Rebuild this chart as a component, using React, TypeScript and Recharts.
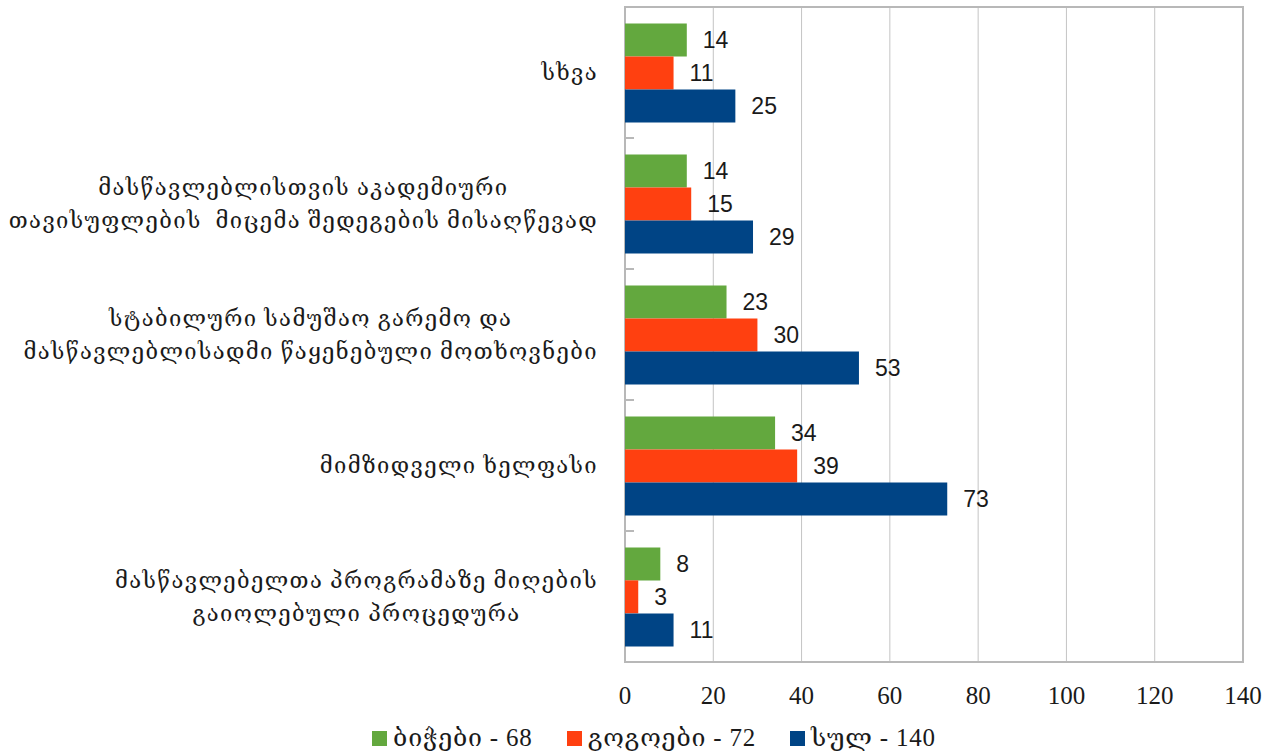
import React from "react";
import {
  BarChart,
  Bar,
  XAxis,
  YAxis,
  CartesianGrid,
  Legend,
  LabelList,
  ReferenceArea,
} from "recharts";

// categories, top to bottom ("\n" marks the line break of the label)
const CATEGORIES = [
  "სხვა",
  "მასწავლებლისთვის აკადემიური\nთავისუფლების  მიცემა შედეგების მისაღწევად",
  "სტაბილური სამუშაო გარემო და\nმასწავლებლისადმი წაყენებული მოთხოვნები",
  "მიმზიდველი ხელფასი",
  "მასწავლებელთა პროგრამაზე მიღების\nგაიოლებული პროცედურა",
];

const BOYS = [14, 14, 23, 34, 8];
const GIRLS = [11, 15, 30, 39, 3];
const TOTAL = [25, 29, 53, 73, 11];

const SERIES_NAMES = ["ბიჭები - 68", "გოგოები - 72", "სულ - 140"];
const X_TICKS = [0, 20, 40, 60, 80, 100, 120, 140];

const COLORS = ["#63a83e", "#ff4010", "#004485"];

const data = CATEGORIES.map((name, i) => ({
  name,
  boys: BOYS[i],
  girls: GIRLS[i],
  total: TOTAL[i],
}));

const GEO_FONT = "'Liberation Serif', 'DejaVu Serif', serif";
const GEO_SIZE = 22;
const GEO_SPACING = 1.4;

let ctx: CanvasRenderingContext2D | null = null;
function measure(text: string) {
  if (!ctx) ctx = document.createElement("canvas").getContext("2d");
  if (!ctx) return text.length * 13;
  ctx.font = `${GEO_SIZE}px ${GEO_FONT}`;
  return ctx.measureText(text).width + text.length * GEO_SPACING;
}

// multi-line label: lines centred on each other, block right-aligned,
// plus the small Excel-style tick at the lower category boundary
const CategoryTick = (props: any) => {
  const { x, y, payload, height, visibleTicksCount, index } = props;
  const lines: string[] = String(payload.value).split("\n");
  const maxW = Math.max(...lines.map(measure));
  const cx = x - 27 - maxW / 2;
  const lineH = 33;
  const top = y - ((lines.length - 1) * lineH) / 2;
  const band =
    typeof height === "number" && visibleTicksCount ? height / visibleTicksCount : 0;
  return (
    <g>
      {band > 0 && index < visibleTicksCount - 1 && (
        <line x1={x} x2={x + 9} y1={y + band / 2} y2={y + band / 2} stroke="#b8b8b8" strokeWidth={2} />
      )}
      {lines.map((line, i) => (
        <text
          key={i}
          x={cx}
          y={top + i * lineH}
          dy="0.35em"
          textAnchor="middle"
          fontFamily={GEO_FONT}
          fontSize={GEO_SIZE}
          letterSpacing={GEO_SPACING}
          fill="#1a1a1a"
          style={{ whiteSpace: "pre" }}
        >
          {line}
        </text>
      ))}
    </g>
  );
};

const ValueTick = (props: any) => {
  const { x, y, payload } = props;
  return (
    <text
      x={x}
      y={y + 42}
      textAnchor="middle"
      fontFamily="'Liberation Serif', serif"
      fontSize={25}
      fill="#1a1a1a"
    >
      {payload.value}
    </text>
  );
};

const LegendContent = () => (
  <div
    style={{
      height: 44,
      boxSizing: "border-box",
      paddingTop: 12,
      paddingLeft: 25,
      display: "flex",
      justifyContent: "center",
      alignItems: "flex-end",
      fontFamily: GEO_FONT,
      fontSize: 25,
      letterSpacing: 0.8,
      lineHeight: "26px",
      color: "#1a1a1a",
    }}
  >
    {SERIES_NAMES.map((name, i) => (
      <div
        key={name}
        style={{
          display: "flex",
          alignItems: "center",
          marginLeft: i === 0 ? 0 : 34,
        }}
      >
        <span
          style={{
            display: "inline-block",
            width: 15,
            height: 15,
            background: COLORS[i],
            marginRight: 6,
          }}
        />
        <span style={{ whiteSpace: "pre" }}>{name}</span>
      </div>
    ))}
  </div>
);

const labelStyle = {
  fontFamily: "'Liberation Sans', Arial, sans-serif",
  fontSize: 23,
  fill: "#1a1a1a",
};

export default function App() {
  return (
    <div style={{ position: "absolute", left: 0, top: 0, background: "#fff" }}>
      <BarChart
        width={1283}
        height={751}
        data={data}
        layout="vertical"
        margin={{ top: 7, right: 40, bottom: 0, left: 0 }}
        barCategoryGap="12.5%"
        barGap={0}
      >
        <CartesianGrid horizontal={false} stroke="#c4c4c4" />
        <XAxis
          type="number"
          domain={[0, 140]}
          ticks={X_TICKS}
          height={45}
          axisLine={false}
          tickLine={false}
          tickSize={0}
          tickMargin={0}
          tick={<ValueTick />}
        />
        <YAxis
          type="category"
          dataKey="name"
          width={625}
          axisLine={false}
          tickLine={false}
          tickSize={0}
          tickMargin={0}
          interval={0}
          tick={<CategoryTick />}
        />
        <ReferenceArea
          x1={0}
          x2={140}
          fill="none"
          fillOpacity={0}
          stroke="#b8b8b8"
          strokeWidth={2}
        />
        <Bar dataKey="boys" name={SERIES_NAMES[0]} fill={COLORS[0]} isAnimationActive={false}>
          <LabelList dataKey="boys" position="right" offset={16} style={labelStyle} />
        </Bar>
        <Bar dataKey="girls" name={SERIES_NAMES[1]} fill={COLORS[1]} isAnimationActive={false}>
          <LabelList dataKey="girls" position="right" offset={16} style={labelStyle} />
        </Bar>
        <Bar dataKey="total" name={SERIES_NAMES[2]} fill={COLORS[2]} isAnimationActive={false}>
          <LabelList dataKey="total" position="right" offset={16} style={labelStyle} />
        </Bar>
        <Legend
          verticalAlign="bottom"
          content={<LegendContent />}
          wrapperStyle={{ left: 0, width: 1283, bottom: 0 }}
        />
      </BarChart>
    </div>
  );
}
